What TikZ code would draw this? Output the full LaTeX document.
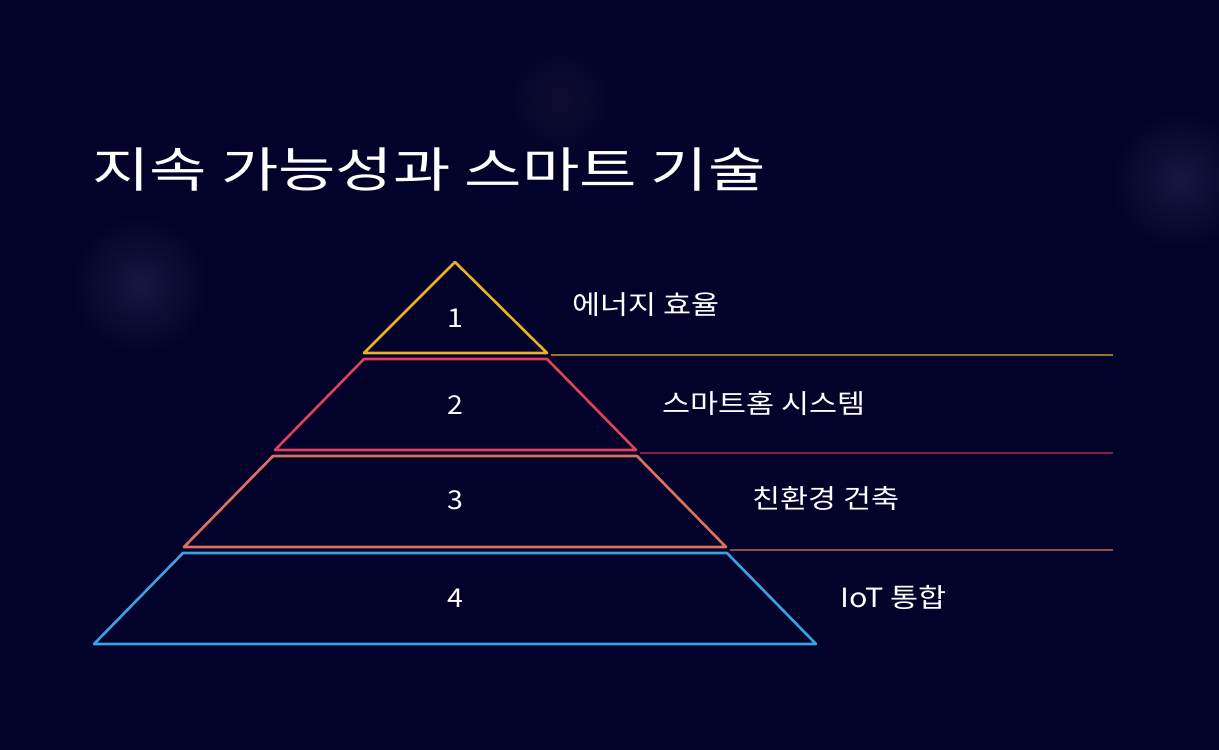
\documentclass[tikz,border=0pt]{standalone}
\usepackage{fontspec}
\setmainfont{Noto Sans CJK KR}
\begin{document}
\begin{tikzpicture}[x=1pt,y=-1pt,
  tier/.style={line width=2.6pt,line join=round},
  lbl/.style={text=white,font=\fontsize{26.5}{30}\selectfont,anchor=west,inner sep=0,xscale=1.15},
  num/.style={text=white,font=\fontsize{26}{30}\selectfont,inner sep=0,xscale=1.1},
  sep/.style={line width=1.2pt}]
\definecolor{bg}{HTML}{02022A}
\definecolor{cy}{HTML}{E8B128}
\definecolor{cr}{HTML}{E0405C}
\definecolor{co}{HTML}{E0705E}
\definecolor{cb}{HTML}{3AA2E2}
\fill[bg] (0,0) rectangle (1219,750);
\useasboundingbox (0,0) rectangle (1219,750);
\shade[inner color=blue!20!gray!20!bg,outer color=bg] (140,285) circle (70);
\shade[inner color=blue!20!gray!20!bg,outer color=bg] (1180,180) circle (70);
\shade[inner color=red!10!gray!10!bg,outer color=bg] (560,100) circle (60);
\node[text=white,font=\fontsize{48}{55}\selectfont,anchor=base west,inner sep=0,xscale=1.3] (title) at (92,187) {지속 가능성과 스마트 기술};
\draw[tier,cy] (455,262) -- (547,353) -- (364,353) -- cycle;
\draw[tier,cr] (364,359) -- (547,359) -- (636,450) -- (275,450) -- cycle;
\draw[tier,co] (273,456) -- (637,456) -- (726,547) -- (184,547) -- cycle;
\draw[tier,cb] (183,553) -- (727,553) -- (816,644) -- (94,644) -- cycle;
\node[num] (n1) at (455,318) {1};
\node[num] (n2) at (455,405) {2};
\node[num] (n3) at (455,500) {3};
\node[num] (n4) at (455,598) {4};
\node[lbl] (l1) at (572,305) {에너지 효율};
\node[lbl] (l2) at (662,403) {스마트홈 시스템};
\node[lbl] (l3) at (752,498) {친환경 건축};
\node[lbl] (l4) at (840,597) {IoT 통합};
\coordinate (a1) at (551,355); \coordinate (b1) at (1113,355);
\coordinate (a2) at (640,453); \coordinate (b2) at (1113,453);
\coordinate (a3) at (730,550); \coordinate (b3) at (1113,550);
\draw[sep,cy!65!bg] (a1) -- (b1);
\draw[sep,cr!55!bg] (a2) -- (b2);
\draw[sep,co!65!bg] (a3) -- (b3);
\end{tikzpicture}
\end{document}
